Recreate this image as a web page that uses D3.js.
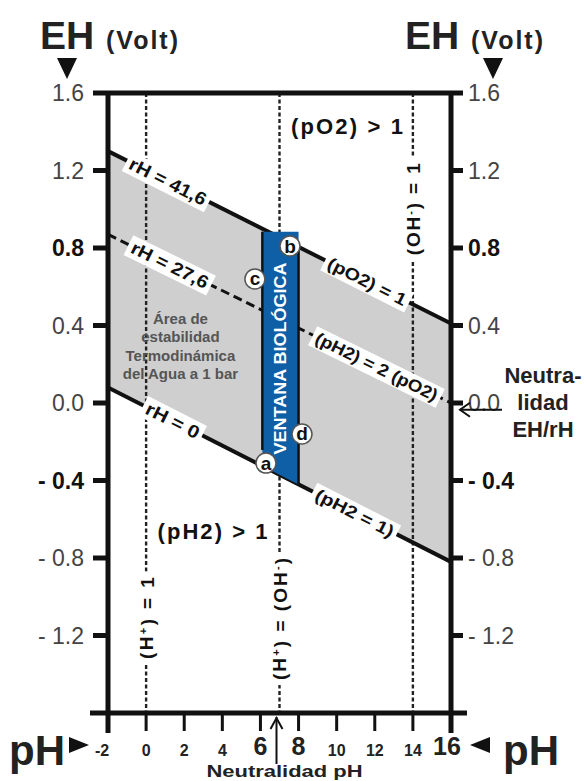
<!DOCTYPE html>
<html><head><meta charset="utf-8">
<script src="https://cdn.jsdelivr.net/npm/d3@7"></script>
<style>
html,body{margin:0;padding:0;background:#fff;}
svg{display:block;font-family:"Liberation Sans",Arial,sans-serif;}
</style></head>
<body>
<svg id="c" width="586" height="781"></svg>
<script>
// ---- data ----
const phTicks = [-2, 0, 2, 4, 6, 8, 10, 12, 14, 16];
const phTickLabels = ["-2", "0", "2", "4", "6", "8", "10", "12", "14", "16"];
const phTickBig = [false, false, false, false, true, true, false, false, false, true];
const ehTicks = [1.6, 1.2, 0.8, 0.4, 0.0, -0.4, -0.8, -1.2];
const ehTickLabels = ["1.6", "1.2", "0.8", "0.4", "0.0", "- 0.4", "- 0.8", "- 1.2"];
const ehTickBold = [false, false, true, false, false, true, false, false];
const linePH = [-2, 16];
const upperEH = [1.30, 0.41];   // rH = 41,6  /  (pO2) = 1
const middleEH = [0.87, 0.00];  // rH = 27,6  /  (pH2) = 2 (pO2)
const lowerEH = [0.08, -0.82];  // rH = 0     /  (pH2 = 1)
const bandPH = [6.1, 8.0];      // ventana biológica
const pointNames = ["a", "b", "c", "d"];
const pointPH = [6.29, 7.55, 5.71, 8.18];
const pointEH = [-0.31, 0.81, 0.64, -0.16];
const neutralPH = [0, 7, 14];
const neutralLabelEH = [-1.11, -1.115, 1.0];

// ---- scales ----
const svg = d3.select("#c");
const x = d3.scaleLinear().domain([-2, 16]).range([108, 451]);
const y = d3.scaleLinear().domain([-1.6, 1.6]).range([713, 93]);
const ehAt = (arr, ph) => arr[0] + (ph - linePH[0]) / (linePH[1] - linePH[0]) * (arr[1] - arr[0]);

// gray stability area
const areaPts = [[linePH[0], upperEH[0]], [linePH[1], upperEH[1]], [linePH[1], lowerEH[1]], [linePH[0], lowerEH[0]]];
svg.append("path").attr("d", d3.line().x(d => x(d[0])).y(d => y(d[1]))(areaPts) + "Z")
  .attr("fill", "#cfcfcf");

// vertical dotted lines
svg.selectAll(".vd").data(neutralPH).join("line")
  .attr("x1", d => x(d)).attr("x2", d => x(d))
  .attr("y1", y(1.6)).attr("y2", y(-1.6))
  .attr("stroke", "#222").attr("stroke-width", 2.4).attr("stroke-dasharray", "4,2.5");

// boundary lines
const lineGen = arr => d3.line().x(d => x(d[0])).y(d => y(d[1]))([[linePH[0], arr[0]], [linePH[1], arr[1]]]);
svg.append("path").attr("d", lineGen(upperEH)).attr("stroke", "#111").attr("stroke-width", 4).attr("fill", "none");
svg.append("path").attr("d", lineGen(lowerEH)).attr("stroke", "#111").attr("stroke-width", 4).attr("fill", "none");
svg.append("path").attr("d", lineGen(middleEH)).attr("stroke", "#111").attr("stroke-width", 3).attr("fill", "none")
  .attr("stroke-dasharray", "9,5");

// blue band
const bTop = ehAt(upperEH, bandPH[0]) - 0.015;
const bandPts = [[bandPH[0], bTop], [bandPH[1], bTop], [bandPH[1], ehAt(lowerEH, bandPH[1])], [bandPH[0], ehAt(lowerEH, bandPH[0])]];
svg.append("path").attr("d", d3.line().x(d => x(d[0])).y(d => y(d[1]))(bandPts) + "Z")
  .attr("fill", "#0f5fa7");
svg.append("line").attr("x1", x(bandPH[0])).attr("x2", x(bandPH[0]))
  .attr("y1", y(bTop)).attr("y2", y(ehAt(lowerEH, bandPH[0])) - 16).attr("stroke", "#111").attr("stroke-width", 2.5);
svg.append("line").attr("x1", x(bandPH[1])).attr("x2", x(bandPH[1]))
  .attr("y1", y(ehAt(upperEH, bandPH[1]))).attr("y2", y(ehAt(lowerEH, bandPH[1]))).attr("stroke", "#111").attr("stroke-width", 2.5);
svg.append("text")
  .attr("transform", `translate(${x((bandPH[0] + bandPH[1]) / 2) + 6},${y(0.23)}) rotate(-90)`)
  .attr("text-anchor", "middle").attr("fill", "#fff").attr("font-weight", "bold")
  .attr("font-size", 17).attr("textLength", 192).attr("lengthAdjust", "spacingAndGlyphs")
  .text("VENTANA BIOLÓGICA");

// line labels with white boxes
const pxAngle = arr => Math.atan2(y(arr[1]) - y(arr[0]), x(linePH[1]) - x(linePH[0])) * 180 / Math.PI;
function lineLabel(txt, ph, arr, size, len) {
  const g = svg.append("g").attr("transform", `translate(${x(ph)},${y(ehAt(arr, ph))}) rotate(${pxAngle(arr)})`);
  const t = g.append("text").attr("text-anchor", "middle").attr("dy", "0.36em")
    .attr("font-size", size).attr("font-weight", "bold").attr("fill", "#111").text(txt);
  if (len) t.attr("textLength", len).attr("lengthAdjust", "spacingAndGlyphs");
  const bb = t.node().getBBox();
  g.insert("rect", "text").attr("x", bb.x - 4).attr("y", bb.y - 1).attr("width", bb.width + 8).attr("height", bb.height + 2)
    .attr("fill", "#fff");
}
lineLabel("rH = 41,6", 1.15, upperEH, 18, 84);
lineLabel("rH = 27,6", 1.25, middleEH, 18, 84);
lineLabel("rH = 0", 1.4, lowerEH, 18, 58);
lineLabel("(pO2) = 1", 11.6, upperEH, 17, 86);
lineLabel("(pH2) = 2 (pO2)", 12.1, middleEH, 17, 134);
lineLabel("(pH2 = 1)", 10.95, lowerEH, 17, 86);

// vertical labels on dotted lines
function vLabel(ph, eh, parts, len) {
  const g = svg.append("g").attr("transform", `translate(${x(ph)},${y(eh)}) rotate(-90)`);
  const t = g.append("text").attr("text-anchor", "middle").attr("dy", "0.36em")
    .attr("font-size", 19).attr("font-weight", "bold").attr("fill", "#111")
    .attr("textLength", len).attr("lengthAdjust", "spacing");
  parts.forEach(p => {
    const s = t.append("tspan").text(p[0]);
    if (p[1]) s.attr("font-size", 11).attr("dy", "-0.55em");
    if (p[2]) s.attr("dy", "0.35em");
  });
  const bb = t.node().getBBox();
  g.insert("rect", "text").attr("x", bb.x - 5).attr("y", bb.y).attr("width", bb.width + 10).attr("height", bb.height)
    .attr("fill", "#fff");
}
vLabel(neutralPH[0], neutralLabelEH[0], [["(H"], ["+", true], [") = 1", false, true]], 82);
vLabel(neutralPH[1], neutralLabelEH[1], [["(H"], ["+", true], [") = (OH", false, true], ["-", true], [")", false, true]], 122);
vLabel(neutralPH[2], neutralLabelEH[2], [["(OH"], ["-", true], [") = 1", false, true]], 92);

// region texts
svg.append("text").attr("x", x(7.6)).attr("y", y(1.39)).attr("font-size", 22).attr("font-weight", "bold")
  .attr("fill", "#111").attr("textLength", 112).text("(pO2) > 1");
svg.append("text").attr("x", x(0.6)).attr("y", y(-0.70)).attr("font-size", 22).attr("font-weight", "bold")
  .attr("fill", "#111").attr("textLength", 110).text("(pH2) > 1");
const areaLines = ["Área de", "estabilidad", "Termodinámica", "del Agua a 1 bar"];
svg.append("g").selectAll("text").data(areaLines).join("text")
  .attr("x", x(1.8)).attr("y", (d, i) => y(0.41) + i * 18.5)
  .attr("text-anchor", "middle").attr("font-size", 15).attr("font-weight", "bold").attr("fill", "#555")
  .text(d => d);

// points a b c d
const pg = svg.selectAll(".pt").data(pointNames).join("g")
  .attr("transform", (d, i) => `translate(${x(pointPH[i])},${y(pointEH[i])})`);
pg.append("circle").attr("r", 10).attr("fill", "#fff").attr("stroke", "#555").attr("stroke-width", 1.5);
pg.append("text").attr("text-anchor", "middle").attr("dy", "0.34em").attr("font-size", 19)
  .attr("font-weight", "bold").attr("fill", "#111").text(d => d);

// frame
const K = "#111";
svg.append("line").attr("x1", x(-2) - 15).attr("x2", x(16) + 12).attr("y1", y(1.6)).attr("y2", y(1.6)).attr("stroke", K).attr("stroke-width", 5);
svg.append("line").attr("x1", x(-2) - 18).attr("x2", x(16) + 16).attr("y1", y(-1.6)).attr("y2", y(-1.6)).attr("stroke", K).attr("stroke-width", 5);
svg.append("line").attr("x1", x(-2)).attr("x2", x(-2)).attr("y1", y(1.6) - 2).attr("y2", y(-1.6) + 20).attr("stroke", K).attr("stroke-width", 5);
svg.append("line").attr("x1", x(16)).attr("x2", x(16)).attr("y1", y(1.6) - 2).attr("y2", y(-1.6) + 20).attr("stroke", K).attr("stroke-width", 5);

// EH ticks
const inner = ehTicks.slice(1);
svg.selectAll(".lt").data(inner).join("line").attr("x1", x(-2) - 15).attr("x2", x(-2))
  .attr("y1", d => y(d)).attr("y2", d => y(d)).attr("stroke", K).attr("stroke-width", 5);
svg.selectAll(".rt").data(inner).join("line").attr("x1", x(16)).attr("x2", x(16) + 12)
  .attr("y1", d => y(d)).attr("y2", d => y(d)).attr("stroke", K).attr("stroke-width", 5);
svg.selectAll(".ll").data(ehTicks).join("text")
  .attr("x", x(-2) - 24).attr("y", d => y(d)).attr("dy", "0.36em").attr("text-anchor", "end")
  .attr("font-size", 23).attr("font-weight", (d, i) => ehTickBold[i] ? "bold" : "normal")
  .attr("fill", (d, i) => ehTickBold[i] ? "#111" : "#444").text((d, i) => ehTickLabels[i]);
svg.selectAll(".rl").data(ehTicks).join("text")
  .attr("x", x(16) + 17).attr("y", d => y(d)).attr("dy", "0.36em").attr("text-anchor", "start")
  .attr("font-size", 23).attr("font-weight", (d, i) => ehTickBold[i] ? "bold" : "normal")
  .attr("fill", (d, i) => ehTickBold[i] ? "#111" : "#444").text((d, i) => ehTickLabels[i]);

// pH ticks
svg.selectAll(".bt").data(phTicks.slice(1, -1)).join("line")
  .attr("x1", d => x(d)).attr("x2", d => x(d)).attr("y1", y(-1.6)).attr("y2", y(-1.6) + 18)
  .attr("stroke", K).attr("stroke-width", 3);
svg.selectAll(".bl").data(phTicks).join("text")
  .attr("x", (d, i) => x(d) + (i === 0 ? -6 : i === 9 ? -4 : 0)).attr("y", (d, i) => y(-1.6) + (phTickBig[i] ? 42 : 43))
  .attr("text-anchor", "middle").attr("font-weight", "bold").attr("fill", "#222")
  .attr("font-size", (d, i) => phTickBig[i] ? 25 : 16).text((d, i) => phTickLabels[i]);

// titles
function ehTitle(x0, tri) {
  svg.append("text").attr("x", x0).attr("y", 49).attr("font-size", 39).attr("font-weight", "bold").attr("fill", "#222").text("EH");
  svg.append("text").attr("x", x0 + 66).attr("y", 49).attr("font-size", 25).attr("font-weight", "bold").attr("fill", "#222")
    .attr("textLength", 72).text("(Volt)");
  svg.append("path").attr("d", `M${tri - 10},58 L${tri + 10},58 L${tri},79 Z`).attr("fill", "#111");
}
ehTitle(40, 67);
ehTitle(405, 493);

svg.append("text").attr("x", 9).attr("y", 765).attr("font-size", 42).attr("font-weight", "bold").attr("fill", "#222").text("pH");
svg.append("path").attr("d", "M69,737 L89,745 L69,753 Z").attr("fill", "#111");
svg.append("text").attr("x", 503).attr("y", 765).attr("font-size", 42).attr("font-weight", "bold").attr("fill", "#222").text("pH");
svg.append("path").attr("d", "M490,737 L470,745 L490,753 Z").attr("fill", "#111");

// neutralidad pH
svg.append("text").attr("x", x(7) + 5).attr("y", 777).attr("text-anchor", "middle").attr("font-size", 16)
  .attr("font-weight", "bold").attr("fill", "#222").attr("textLength", 156).attr("lengthAdjust", "spacingAndGlyphs")
  .text("Neutralidad pH");
const ax = x(7) - 3;
svg.append("line").attr("x1", ax).attr("x2", ax).attr("y1", 764).attr("y2", y(-1.6) + 4).attr("stroke", K).attr("stroke-width", 2);
svg.append("path").attr("d", `M${ax - 6},${y(-1.6) + 16} L${ax},${y(-1.6) + 5} L${ax + 6},${y(-1.6) + 16}`)
  .attr("fill", "none").attr("stroke", K).attr("stroke-width", 2);

// neutralidad EH/rH
const ay = y(-0.035);
svg.append("line").attr("x1", 502).attr("x2", x(16) + 9).attr("y1", ay).attr("y2", ay).attr("stroke", K).attr("stroke-width", 2);
svg.append("path").attr("d", `M${x(16) + 19},${ay - 7} L${x(16) + 9},${ay} L${x(16) + 19},${ay + 7}`)
  .attr("fill", "none").attr("stroke", K).attr("stroke-width", 2);
const nl = ["Neutra-", "lidad", "EH/rH"];
svg.append("g").selectAll("text").data(nl).join("text")
  .attr("x", 543).attr("y", (d, i) => 383 + i * 27).attr("text-anchor", "middle")
  .attr("font-size", 22).attr("font-weight", "bold").attr("fill", "#222").text(d => d);
</script>
</body></html>
